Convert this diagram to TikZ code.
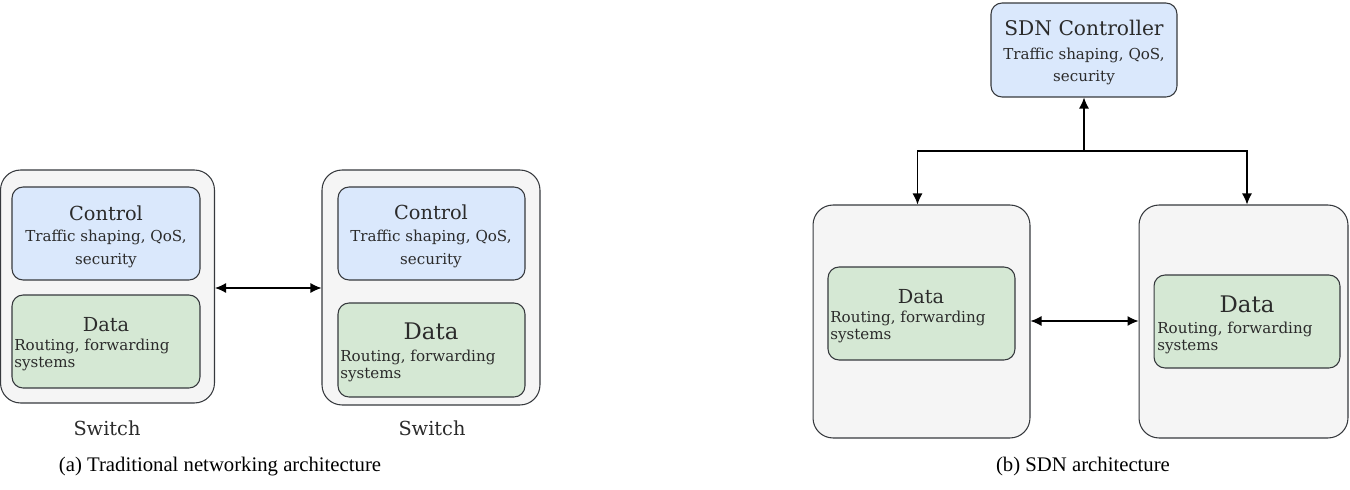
\documentclass[tikz,border=0pt]{standalone}
\usepackage{fontspec}
\setmainfont{Liberation Serif}
\newfontfamily\diagfont{DejaVu Serif}
\usetikzlibrary{arrows.meta}
\definecolor{planeblue}{HTML}{DAE8FC}
\definecolor{planegreen}{HTML}{D5E8D4}
\definecolor{framegray}{HTML}{F5F5F5}
\definecolor{strokegray}{HTML}{36393D}
\definecolor{textgray}{HTML}{2B2B2B}
\tikzstyle{orientedarc}=[-{Latex[length=2.2mm,width=2mm]},line width=0.7pt]
\tikzstyle{arc}=[{Latex[length=2.2mm,width=2mm]}-{Latex[length=2.2mm,width=2mm]},line width=0.7pt]
\tikzstyle{switchframe}=[draw=strokegray,fill=framegray,rounded corners=0.4cm,line width=0.6pt,inner sep=0pt]
\tikzstyle{controlplane}=[draw=strokegray,fill=planeblue,rounded corners=0.22cm,line width=0.6pt]
\tikzstyle{dataplane}=[draw=strokegray,fill=planegreen,rounded corners=0.22cm,line width=0.6pt]
\tikzstyle{planetitle}=[font=\diagfont\fontsize{11}{13}\selectfont,text=textgray,inner sep=0pt]
\tikzstyle{bigtitle}=[font=\diagfont\fontsize{13}{15}\selectfont,text=textgray,inner sep=0pt]
\tikzstyle{controltext}=[font=\diagfont\fontsize{8.6}{13}\selectfont,text=textgray,align=center,inner sep=0pt]
\tikzstyle{datatext}=[font=\diagfont\fontsize{8.6}{9.8}\selectfont,text=textgray,align=left,inner sep=0pt,anchor=west]
\tikzstyle{switchlabel}=[font=\diagfont\fontsize{11}{13}\selectfont,text=textgray,inner sep=0pt]
\tikzstyle{caption}=[font=\fontsize{11.8}{13}\selectfont,inner sep=0pt]

\begin{document}
\begin{tikzpicture}[x=0.02cm,y=-0.02cm]
\useasboundingbox (0,0) rectangle (1350,490);

% (a) traditional switches
\node[switchframe,minimum width=4.28cm,minimum height=4.66cm] (SW1) at (107.5,286.5) {};
\node[controlplane,minimum width=3.76cm,minimum height=1.86cm] (C1) at (106,233.5) {};
\node[dataplane,minimum width=3.76cm,minimum height=1.86cm] (D1) at (106,341.5) {};

\node[switchframe,minimum width=4.36cm,minimum height=4.7cm] (SW2) at (431,287.5) {};
\node[controlplane,minimum width=3.74cm,minimum height=1.86cm] (C2) at (431.5,233.5) {};
\node[dataplane,minimum width=3.74cm,minimum height=1.88cm] (D2) at (431.5,350) {};

\node[planetitle] (C1T) at (106,213) {Control};
\node[controltext] (C1B) at (106,249) {Traffic shaping, QoS,\\security};
\node[planetitle] (D1T) at (106,325) {Data};
\node[datatext] (D1B) at (14,355) {Routing, forwarding\\systems};

\node[planetitle] (C2T) at (431,212) {Control};
\node[controltext] (C2B) at (431,249) {Traffic shaping, QoS,\\security};
\node[bigtitle] (D2T) at (431,331) {Data};
\node[datatext] (D2B) at (340,366) {Routing, forwarding\\systems};

\node[switchlabel] (L1) at (107,428) {Switch};
\node[switchlabel] (L2) at (432,428) {Switch};

\draw[arc] (SW1.east |- 0,288) -- (SW2.west |- 0,288);

% (b) SDN
\node[controlplane,minimum width=3.72cm,minimum height=1.88cm] (CTRL) at (1084,50) {};
\node[planetitle,font=\diagfont\fontsize{11.5}{13}\selectfont] (CTRLT) at (1084,28) {SDN Controller};
\node[controltext] (CTRLB) at (1084,66.5) {Traffic shaping, QoS,\\security};

\node[switchframe,minimum width=4.34cm,minimum height=4.66cm] (SW3) at (921.5,321.5) {};
\node[dataplane,minimum width=3.74cm,minimum height=1.86cm] (D3) at (921.5,313.5) {};
\node[planetitle] (D3T) at (921,297) {Data};
\node[datatext] (D3B) at (830,327) {Routing, forwarding\\systems};

\node[switchframe,minimum width=4.18cm,minimum height=4.66cm] (SW4) at (1243.5,321.5) {};
\node[dataplane,minimum width=3.72cm,minimum height=1.86cm] (D4) at (1247,321.5) {};
\node[bigtitle] (D4T) at (1247,304) {Data};
\node[datatext] (D4B) at (1157,338) {Routing, forwarding\\systems};

\coordinate (BUS) at (1084,151);
\draw[orientedarc] (BUS) -- (CTRL.south);
\draw[orientedarc] (BUS) -| ([xshift=-0.08cm]SW3.north);
\draw[orientedarc] (BUS) -| ([xshift=0.07cm]SW4.north);
\draw[arc] (SW3.east |- 0,321) -- (SW4.west |- 0,321);

\node[caption] (CAPA) at (220,467) {(a) Traditional networking architecture};
\node[caption] (CAPB) at (1083,467) {(b) SDN architecture};
\end{tikzpicture}
\end{document}
